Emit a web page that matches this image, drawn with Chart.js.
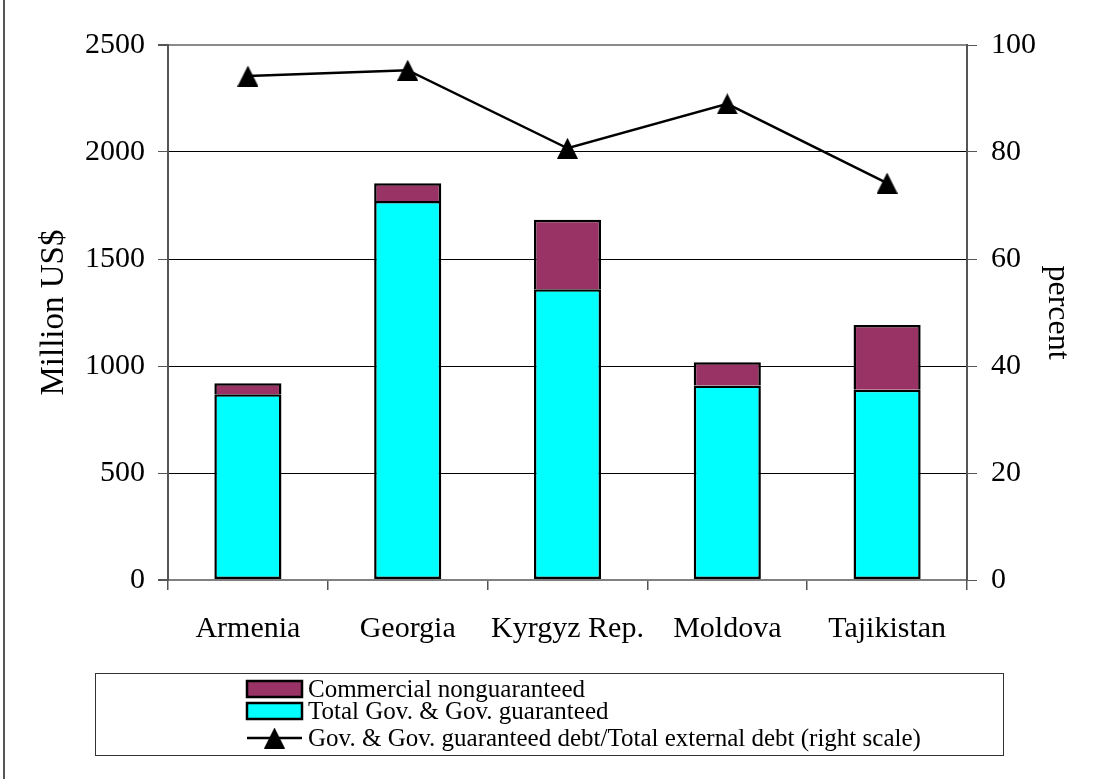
<!DOCTYPE html>
<html>
<head>
<meta charset="utf-8">
<script src="https://cdn.jsdelivr.net/npm/chart.js@4.4.1/dist/chart.umd.min.js"></script>
<style>
  html, body { margin: 0; padding: 0; background: #fff; }
  #wrap { width: 1094px; height: 779px; position: relative; }
</style>
</head>
<body>
<div id="wrap"><canvas id="c" width="1094" height="779"></canvas></div>
<script>
// External debt by country (million US$) and public share (percent)
const countries = ['Armenia', 'Georgia', 'Kyrgyz Rep.', 'Moldova', 'Tajikistan'];
const govGuaranteed = [868, 1771, 1359, 909, 889];
const commercialNonguaranteed = [51, 83, 324, 109, 303];
const govShareOfTotal = [94.2, 95.3, 80.7, 89.0, 74.2];

const leftTicks = [0, 500, 1000, 1500, 2000, 2500];
const rightTicks = [0, 20, 40, 60, 80, 100];

const labelCommercial = 'Commercial nonguaranteed';
const labelGov = 'Total Gov. & Gov. guaranteed';
const labelShare = 'Gov. & Gov. guaranteed debt/Total external debt (right scale)';

const MAGENTA = '#993366';
const CYAN = '#00FFFF';
const SERIF = '"Liberation Serif", "Times New Roman", serif';

// Triangle marker, centred on its bounding box
function makeTriangle(w, h) {
  const cv = document.createElement('canvas');
  cv.width = w; cv.height = h;
  const g = cv.getContext('2d');
  g.fillStyle = '#000';
  g.beginPath();
  g.moveTo(w / 2, 0);
  g.lineTo(w, h);
  g.lineTo(0, h);
  g.closePath();
  g.fill();
  return cv;
}
const triangle = makeTriangle(21, 21);

// Frame line on the left edge and the boxed legend under the axis
const framePlugin = {
  id: 'frameAndLegend',
  afterDraw(chart) {
    const ctx = chart.ctx;
    ctx.save();
    ctx.strokeStyle = '#555';
    ctx.lineWidth = 2;
    ctx.beginPath();
    ctx.moveTo(4, 0);
    ctx.lineTo(4, chart.height);
    ctx.stroke();

    // legend box
    ctx.strokeStyle = '#333';
    ctx.lineWidth = 1;
    ctx.strokeRect(95.5, 673.5, 908, 82);

    const byLabel = {};
    chart.data.datasets.forEach(d => { byLabel[d.label] = d; });
    const rows = [
      { ds: byLabel[labelCommercial], y: 689, kind: 'box' },
      { ds: byLabel[labelGov], y: 711, kind: 'box' },
      { ds: byLabel[labelShare], y: 738, kind: 'line' }
    ];
    const sx = 247, sw = 55, tx = 308;
    ctx.font = '25px ' + SERIF;
    ctx.textBaseline = 'middle';
    ctx.textAlign = 'left';
    rows.forEach(r => {
      if (r.kind === 'box') {
        ctx.fillStyle = r.ds.backgroundColor;
        ctx.fillRect(sx, r.y - 8, sw, 16);
        ctx.strokeStyle = '#000';
        ctx.lineWidth = 2.5;
        ctx.strokeRect(sx, r.y - 8, sw, 16);
      } else {
        ctx.strokeStyle = '#000';
        ctx.lineWidth = 2.5;
        ctx.beginPath();
        ctx.moveTo(sx, r.y);
        ctx.lineTo(sx + sw, r.y);
        ctx.stroke();
        ctx.drawImage(triangle, sx + sw / 2 - 10.5, r.y - 10.5);
      }
      ctx.fillStyle = '#000';
      ctx.fillText(r.ds.label, tx, r.y + 1);
    });
    ctx.restore();
  }
};

const tickFont = { family: SERIF, size: 30 };
const plainNumber = v => String(v);

new Chart(document.getElementById('c'), {
  data: {
    labels: countries,
    datasets: [
      {
        type: 'line',
        label: labelShare,
        data: govShareOfTotal,
        yAxisID: 'y1',
        borderColor: '#000',
        borderWidth: 2.5,
        pointStyle: triangle,
        pointRadius: 10,
        tension: 0,
        fill: false,
        order: 0
      },
      {
        type: 'bar',
        label: labelGov,
        data: govGuaranteed,
        yAxisID: 'y',
        backgroundColor: CYAN,
        borderColor: '#000',
        borderWidth: 2.5,
        borderSkipped: false,
        stack: 'debt',
        order: 1
      },
      {
        type: 'bar',
        label: labelCommercial,
        data: commercialNonguaranteed,
        yAxisID: 'y',
        backgroundColor: MAGENTA,
        borderColor: '#000',
        borderWidth: 2.5,
        borderSkipped: 'start',
        stack: 'debt',
        order: 1
      }
    ]
  },
  options: {
    responsive: false,
    animation: false,
    events: [],
    layout: { padding: { top: 45, left: 0, right: 0, bottom: 0 } },
    datasets: {
      bar: { categoryPercentage: 1.0, barPercentage: 0.42 }
    },
    plugins: {
      legend: { display: false },
      tooltip: { enabled: false }
    },
    scales: {
      x: {
        stacked: true,
        offset: true,
        afterFit(s) { s.height = 199; },
        grid: {
          display: true,
          drawOnChartArea: false,
          drawTicks: true,
          tickLength: 10,
          color: '#555',
          lineWidth: 1.5
        },
        border: { display: true, color: '#808080', width: 2 },
        ticks: { font: tickFont, color: '#000', padding: 21, maxRotation: 0, autoSkip: false }
      },
      y: {
        position: 'left',
        stacked: true,
        min: 0,
        max: 2500,
        afterFit(s) { s.width = 168; },
        afterBuildTicks(s) { s.ticks = leftTicks.map(v => ({ value: v })); },
        grid: {
          drawTicks: true,
          tickLength: 10,
          tickColor: '#555',
          color: ctx => (ctx.tick && (ctx.tick.value === 0 || ctx.tick.value === 2500)) ? '#8a8a8a' : '#000',
          lineWidth: ctx => (ctx.tick && (ctx.tick.value === 0 || ctx.tick.value === 2500)) ? 2 : 1
        },
        border: { display: true, color: '#555', width: 2 },
        ticks: { font: tickFont, color: '#000', padding: 13, callback: plainNumber },
        title: {
          display: true,
          text: 'Million US$',
          font: { family: SERIF, size: 33 },
          color: '#000',
          padding: { top: 35, bottom: 0 }
        }
      },
      y1: {
        position: 'right',
        min: 0,
        max: 100,
        afterFit(s) { s.width = 127; },
        afterBuildTicks(s) { s.ticks = rightTicks.map(v => ({ value: v })); },
        grid: {
          drawOnChartArea: false,
          drawTicks: true,
          tickLength: 10,
          tickColor: '#555'
        },
        border: { display: true, color: '#555', width: 2 },
        ticks: { font: tickFont, color: '#000', padding: 14, callback: plainNumber },
        title: {
          display: true,
          text: 'percent',
          font: { family: SERIF, size: 32 },
          color: '#000',
          padding: { top: 17, bottom: 0 }
        }
      }
    }
  },
  plugins: [framePlugin]
});
</script>
</body>
</html>
